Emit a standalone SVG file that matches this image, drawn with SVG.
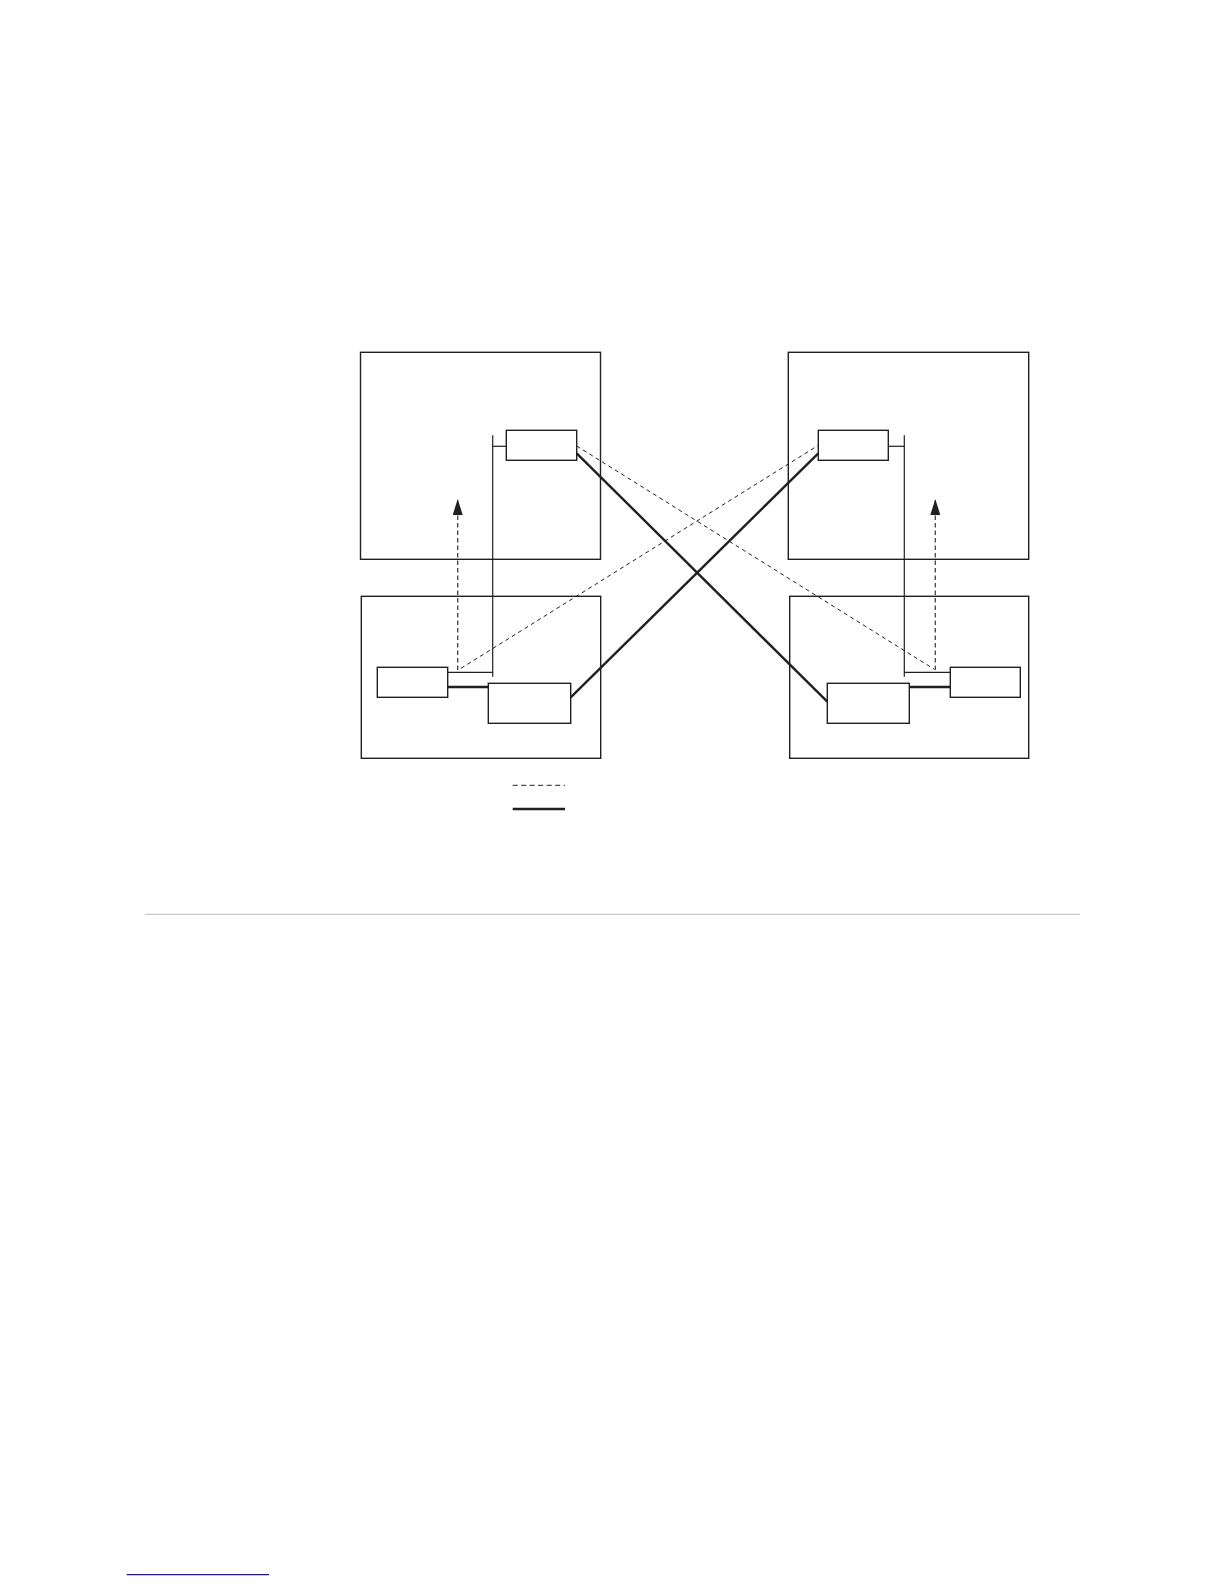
<svg xmlns="http://www.w3.org/2000/svg" width="1224" height="1584" viewBox="0 0 1224 1584">
<style>
.box{fill:#fff;stroke:#231f20;stroke-width:1.4}
.thin{fill:none;stroke:#231f20;stroke-width:1.2}
.thick{fill:none;stroke:#231f20;stroke-width:2.4}
.dash{fill:none;stroke:#231f20;stroke-width:1;stroke-dasharray:4 3.5}
.arr{fill:none;stroke:#444;stroke-width:1.3;stroke-dasharray:4.5 3}
</style>
<defs>
<marker id="ah" markerWidth="16" markerHeight="10" refX="16" refY="5" orient="auto" markerUnits="userSpaceOnUse" viewBox="0 0 16 10">
<path d="M0 0 L16 5 L0 10 Z" fill="#231f20"/>
</marker>
</defs>
<rect width="1224" height="1584" fill="#fff"/>
<g id="frame-tl"><rect class="box" x="360.5" y="352.3" width="240" height="207"/></g>
<g id="frame-tr"><rect class="box" x="788.3" y="352.3" width="240.4" height="207"/></g>
<g id="frame-bl"><rect class="box" x="361.3" y="596.3" width="239.4" height="162"/></g>
<g id="frame-br"><rect class="box" x="789.7" y="596.3" width="239" height="162"/></g>
<g id="node-tl"><rect class="box" x="506.3" y="430.3" width="70.4" height="30"/></g>
<g id="node-tr"><rect class="box" x="818.3" y="430.3" width="70" height="30"/></g>
<g id="node-bl-small"><rect class="box" x="377.3" y="667.3" width="70.4" height="30"/></g>
<g id="node-bl-big"><rect class="box" x="488.3" y="683.3" width="82.4" height="40"/></g>
<g id="node-br-big"><rect class="box" x="827.3" y="683.3" width="82" height="40"/></g>
<g id="node-br-small"><rect class="box" x="950.3" y="667.3" width="70" height="30"/></g>
<g id="connectors">
<polyline class="thin" points="506.3,446.3 492.7,446.3"/>
<line class="thin" x1="492.7" y1="435.3" x2="492.7" y2="676.7"/>
<line class="thin" x1="447.7" y1="672.3" x2="492.7" y2="672.3"/>
<line class="thick" x1="447.7" y1="687" x2="488.3" y2="687"/>
<polyline class="thin" points="888.3,446.3 904.3,446.3"/>
<line class="thin" x1="904.3" y1="435.3" x2="904.3" y2="676.7"/>
<line class="thin" x1="904.3" y1="672.3" x2="950.3" y2="672.3"/>
<line class="thick" x1="909.3" y1="687" x2="950.3" y2="687"/>
<line class="arr" x1="457.7" y1="670" x2="457.7" y2="499" marker-end="url(#ah)"/>
<line class="arr" x1="935.3" y1="670" x2="935.3" y2="499" marker-end="url(#ah)"/>
<line class="dash" x1="576.7" y1="446" x2="934.3" y2="669.3"/>
<line class="dash" x1="461" y1="668.3" x2="818.3" y2="445.3"/>
<line class="thick" x1="576.7" y1="453.3" x2="827.3" y2="701.7"/>
<line class="thick" x1="570.7" y1="697.3" x2="818.3" y2="453.3"/>
</g>
<g id="legend">
<line x1="512.7" y1="785.3" x2="565" y2="785.3" stroke="#231f20" stroke-width="1" stroke-dasharray="5 3.5"/>
<line x1="512.7" y1="809" x2="565" y2="809" stroke="#231f20" stroke-width="2.4"/>
</g>
<line x1="145" y1="914.3" x2="1080" y2="914.3" stroke="#c8c8c8" stroke-width="1.2"/>
<line x1="126.7" y1="1574.7" x2="269" y2="1574.7" stroke="#1a1a9a" stroke-width="1.2"/>
</svg>
